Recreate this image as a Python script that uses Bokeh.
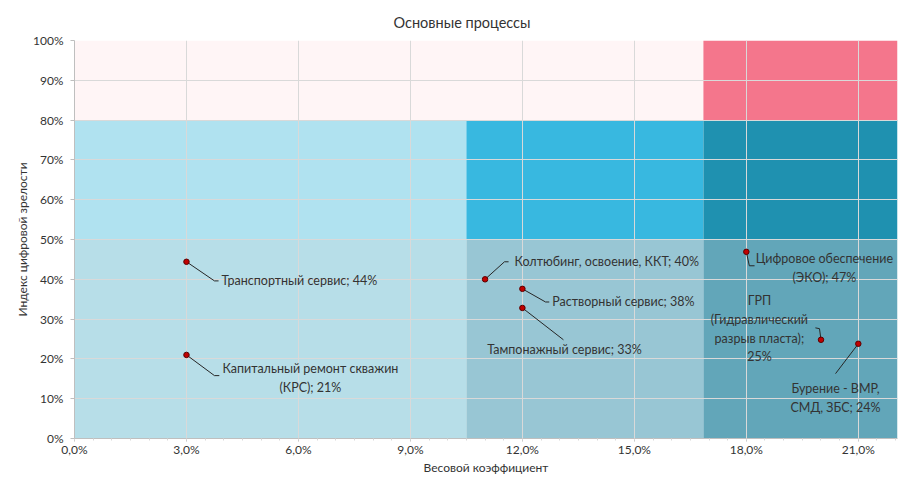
from bokeh.plotting import figure
from bokeh.models import FixedTicker, CustomJSTickFormatter, Range1d, ColumnDataSource, Title
from bokeh.core.properties import value
from bokeh.embed import file_html
from bokeh.resources import INLINE

# ---- data ----
names = [
    "Транспортный сервис; 44%",
    "Капитальный ремонт скважин\n(КРС); 21%",
    "Колтюбинг, освоение, ККТ; 40%",
    "Растворный сервис; 38%",
    "Тампонажный сервис; 33%",
    "Цифровое обеспечение\n(ЭКО); 47%",
    "ГРП\n(Гидравлический\nразрыв пласта);\n25%",
    "Бурение - ВМР,\nСМД, ЗБС; 24%",
]
weight = [3.0, 3.0, 11.0, 12.0, 12.0, 18.0, 20.0, 21.0]      # x, %
maturity = [44.4, 21.0, 40.0, 37.6, 32.8, 46.9, 24.8, 23.8]  # y, %

x_ticks = [0, 3, 6, 9, 12, 15, 18, 21]
y_ticks = [0, 10, 20, 30, 40, 50, 60, 70, 80, 90, 100]

# zones (background matrix)
zone_left = [0, 16.85, 0, 10.5, 16.85, 0, 10.5, 16.85]
zone_right = [16.85, 22.05, 10.5, 16.85, 22.05, 10.5, 16.85, 22.05]
zone_bottom = [80, 80, 50, 50, 50, 0, 0, 0]
zone_top = [100, 100, 80, 80, 80, 50, 50, 50]
zone_color = ["#FFF5F6", "#F4768C", "#B0E2F0", "#38B8E0", "#1F91B0",
              "#B7DEE8", "#98C6D4", "#62A6B9"]

# ---- label layout (data units) ----
lab_x = [3.94, 6.32, 11.79, 12.80, 13.13, 20.09, 18.35, 20.39]
lab_y = [39.6, 15.2, 44.4, 34.3, 22.3, 42.9, 27.6, 10.2]
lab_align = ["left", "center", "left", "left", "center", "center", "center", "center"]
# leader polylines: point -> elbow -> end
lead_xs = [[3, 3.75, 3.86], [3, 3.75, 3.88], [11.0, 11.52, 11.63], [12, 12.62, 12.72],
           [12, 13.10], [18.0, 18.08, 18.22], [20.0, 19.96, 19.85], [21, 20.39]]
lead_ys = [[44.4, 39.6, 39.6], [21, 15.8, 15.8], [40, 44.4, 44.4], [37.6, 34.3, 34.3],
           [32.8, 24.8], [46.9, 43.4, 43.4], [24.8, 27.6, 27.8], [23.8, 16.3]]

FONT = "Lato"
TXT = "#333333"

p = figure(width=908, height=477, min_border_left=74, min_border_right=11,
           min_border_top=40, min_border_bottom=38, output_backend="svg",
           toolbar_location=None, x_range=Range1d(0, 22.05), y_range=Range1d(0, 100))
p.outline_line_color = None
p.background_fill_color = "white"
p.border_fill_color = "white"

t = Title(text="Основные процессы", align="left", offset=319, text_font=FONT,
          text_font_size="14.5px", text_font_style="normal", text_color=TXT, standoff=20)
p.add_layout(t, "above")

q = p.quad(left=zone_left, right=zone_right, bottom=zone_bottom, top=zone_top,
           fill_color=zone_color, line_color=None)
q.level = "underlay"

p.xgrid.level = "glyph"
p.ygrid.level = "glyph"
p.xgrid.grid_line_color = "#D9D9D9"
p.ygrid.grid_line_color = "#D9D9D9"

p.xaxis.ticker = FixedTicker(ticks=x_ticks, minor_ticks=[i * 0.5 for i in range(45)])
p.yaxis.ticker = FixedTicker(ticks=y_ticks)
p.xgrid.ticker = FixedTicker(ticks=x_ticks)
p.ygrid.ticker = FixedTicker(ticks=y_ticks)
p.xaxis.formatter = CustomJSTickFormatter(code="return tick.toFixed(1).replace('.', ',') + '%';")
p.yaxis.formatter = CustomJSTickFormatter(code="return tick.toFixed(0) + '%';")

for ax in (p.xaxis[0], p.yaxis[0]):
    ax.axis_line_color = "#BFBFBF"
    ax.major_tick_line_color = "#BFBFBF"
    ax.minor_tick_line_color = "#D9D9D9"
    ax.major_tick_out = 4
    ax.major_tick_in = 0
    ax.minor_tick_out = 3
    ax.minor_tick_in = 0
    ax.major_label_text_font = FONT
    ax.major_label_text_font_size = "12px"
    ax.major_label_text_color = TXT
    ax.axis_label_text_font = FONT
    ax.axis_label_text_font_size = "12px"
    ax.axis_label_text_font_style = "normal"
    ax.axis_label_text_color = TXT
p.xaxis.major_tick_out = 3
p.xaxis.minor_tick_out = 2
p.yaxis.minor_tick_line_color = None
p.xaxis.axis_label = "Весовой коэффициент"
p.yaxis.axis_label = "Индекс цифровой зрелости"
p.xaxis.major_label_standoff = 0
p.yaxis.major_label_standoff = 7
p.xaxis.axis_label_standoff = 0
p.yaxis.axis_label_standoff = 0

ml = p.multi_line(xs=lead_xs, ys=lead_ys, line_color="#262626", line_width=1)
ml.level = "annotation"

src = ColumnDataSource(dict(x=weight, y=maturity))
sc = p.scatter("x", "y", source=src, size=5.5, fill_color="#C00000", line_color="#5A0000", line_width=1)
sc.level = "annotation"

tx = p.text(x=lab_x, y=lab_y, text=names, text_align=lab_align, text_baseline="middle",
            text_font=value(FONT), text_font_size="12.5px", text_color=TXT, text_line_height=1.25)
tx.level = "annotation"

open("out.html", "w").write(file_html(p, INLINE))
